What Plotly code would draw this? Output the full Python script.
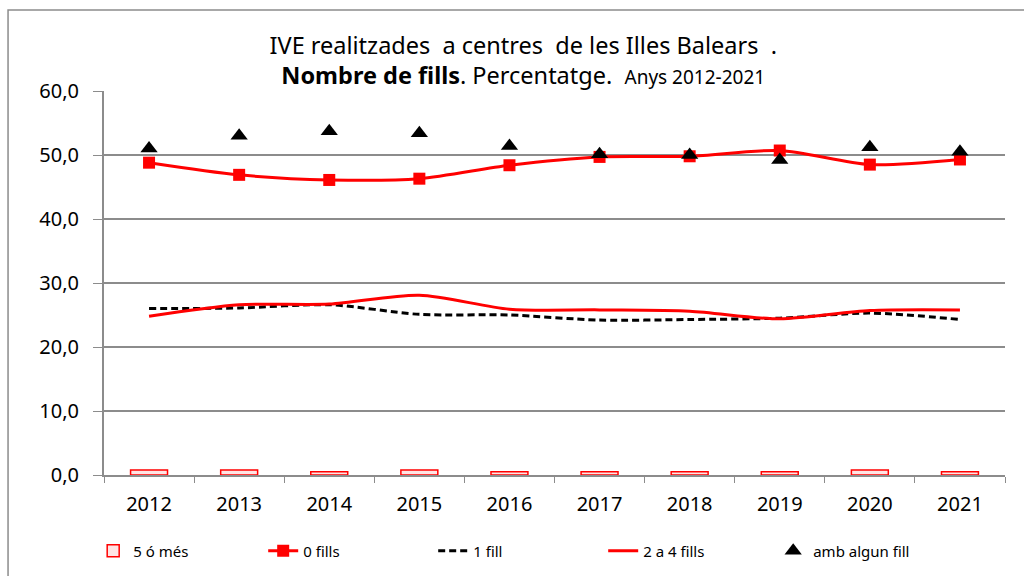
import plotly.graph_objects as go

years = ["2012", "2013", "2014", "2015", "2016", "2017", "2018", "2019", "2020", "2021"]
cinc_o_mes = [0.8, 0.8, 0.5, 0.8, 0.5, 0.5, 0.5, 0.5, 0.8, 0.5]
zero_fills = [48.8, 46.9, 46.1, 46.3, 48.4, 49.7, 49.8, 50.7, 48.5, 49.3]
un_fill = [26.0, 26.1, 26.6, 25.1, 25.0, 24.2, 24.3, 24.5, 25.3, 24.3]
dos_a_quatre = [24.8, 26.6, 26.7, 28.1, 25.9, 25.8, 25.6, 24.4, 25.7, 25.8]
algun_fill = [51.0, 53.0, 53.7, 53.4, 51.4, 50.1, 50.0, 49.2, 51.2, 50.5]
y_ticks = [0, 10, 20, 30, 40, 50, 60]
y_tick_labels = ["0,0", "10,0", "20,0", "30,0", "40,0", "50,0", "60,0"]

fig = go.Figure()
fig.add_trace(go.Bar(x=years, y=cinc_o_mes, name="5 ó més", width=0.41,
                     marker=dict(color="#ffe4e4", line=dict(color="#ff0000", width=1.5))))
fig.add_trace(go.Scatter(x=years, y=zero_fills, name="0 fills", mode="lines+markers",
                         line=dict(color="#ff0000", width=3, shape="spline", smoothing=0.8),
                         marker=dict(symbol="square", size=12, color="#ff0000")))
fig.add_trace(go.Scatter(x=years, y=un_fill, name="1 fill", mode="lines",
                         line=dict(color="#000000", width=3, dash="7px,4px", shape="spline", smoothing=0.8)))
fig.add_trace(go.Scatter(x=years, y=dos_a_quatre, name="2 a 4 fills", mode="lines",
                         line=dict(color="#ff0000", width=3, shape="spline", smoothing=0.8)))
fig.add_trace(go.Scatter(x=years, y=algun_fill, name="amb algun fill", mode="markers",
                         marker=dict(symbol="triangle-up", size=15, color="#000000")))

fig.update_layout(
    width=1024, height=576,
    margin=dict(l=104, r=19, t=91, b=101, autoexpand=False),
    paper_bgcolor="white", plot_bgcolor="white",
    font=dict(family="Noto Sans", color="#000000"),
    title=dict(
        text="IVE realitzades  a centres  de les Illes Balears  .<br><b>Nombre de fills</b>. Percentatge.  <span style='font-size:19px'>Anys 2012-2021</span>",
        x=0.511, xanchor="center", y=0.907, yanchor="middle", yref="container",
        font=dict(size=23.5, family="Noto Sans", color="#000000")),
    showlegend=True,
    legend=dict(orientation="h", x=-0.012, xanchor="left", y=-0.198, yanchor="middle",
                font=dict(size=15, family="Noto Sans"), entrywidth=125, entrywidthmode="pixels",
                traceorder="normal"),
    bargap=0.5,
)
fig.update_xaxes(type="category", range=[-0.5, 9.5], showline=True, linecolor="#8c8c8c", linewidth=2,
                 ticks="outside", tickson="boundaries", ticklen=6, tickcolor="#8c8c8c",
                 tickfont=dict(size=20), ticklabelstandoff=10, showgrid=False, automargin=False)
fig.update_yaxes(range=[0, 60], tickvals=y_ticks, ticktext=y_tick_labels, showline=True,
                 linecolor="#8c8c8c", linewidth=2, ticks="outside", ticklen=9,
                 tickcolor="#8c8c8c", tickfont=dict(size=20), ticklabelstandoff=10,
                 showgrid=True, gridcolor="#8c8c8c", gridwidth=1.5, zeroline=False, automargin=False)

fig.add_shape(type="rect", xref="paper", yref="paper", x0=-0.1065, x1=1.03, y0=-0.3, y1=1.211,
              line=dict(color="#8c8c8c", width=1.5), fillcolor="rgba(0,0,0,0)", layer="below")

fig.write_html("out.html", config={"displayModeBar": False},
               post_script="document.body.style.margin='0px';")
